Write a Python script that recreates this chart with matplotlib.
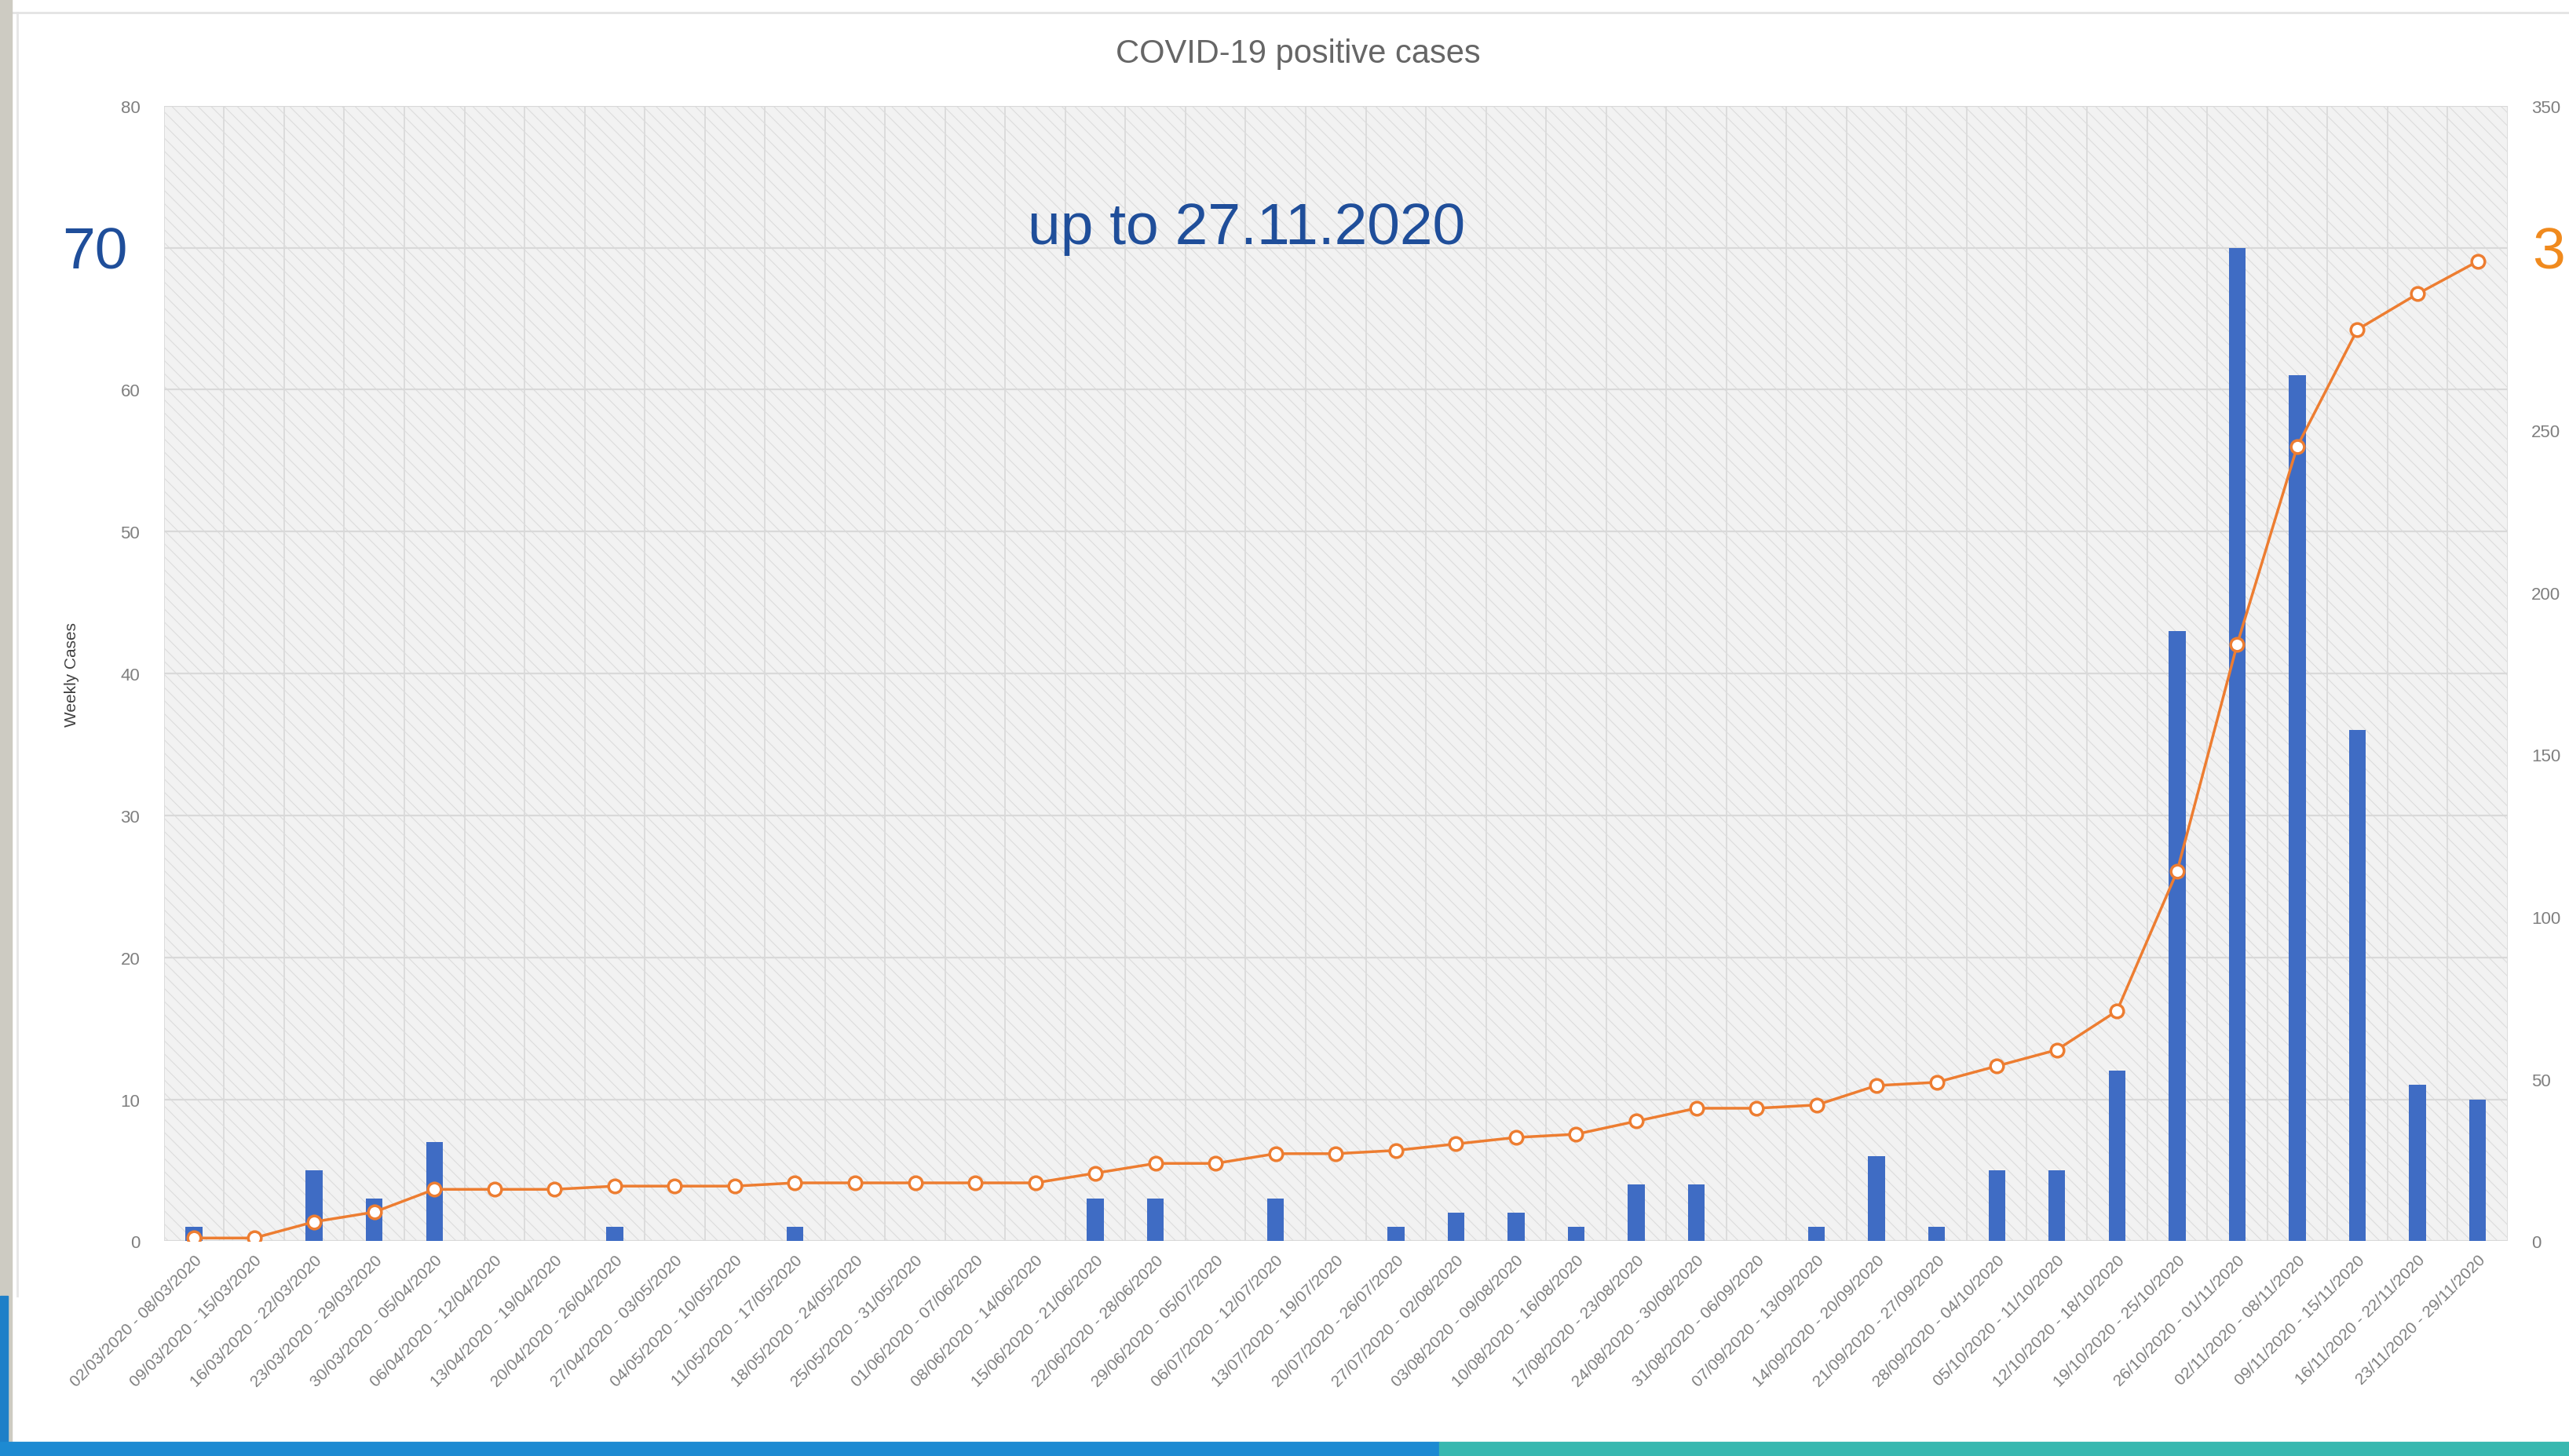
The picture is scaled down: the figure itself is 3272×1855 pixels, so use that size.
import matplotlib
matplotlib.use('Agg')
import matplotlib.pyplot as plt
from matplotlib.patches import Rectangle

plt.rcParams['font.family'] = ['Liberation Sans', 'DejaVu Sans']
plt.rcParams['hatch.linewidth'] = 0.8

# weekly periods (Mon - Sun)
week_starts = ['02/03', '09/03', '16/03', '23/03', '30/03', '06/04', '13/04', '20/04', '27/04',
               '04/05', '11/05', '18/05', '25/05', '01/06', '08/06', '15/06', '22/06', '29/06',
               '06/07', '13/07', '20/07', '27/07', '03/08', '10/08', '17/08', '24/08', '31/08',
               '07/09', '14/09', '21/09', '28/09', '05/10', '12/10', '19/10', '26/10', '02/11',
               '09/11', '16/11', '23/11']
week_ends = ['08/03', '15/03', '22/03', '29/03', '05/04', '12/04', '19/04', '26/04', '03/05',
             '10/05', '17/05', '24/05', '31/05', '07/06', '14/06', '21/06', '28/06', '05/07',
             '12/07', '19/07', '26/07', '02/08', '09/08', '16/08', '23/08', '30/08', '06/09',
             '13/09', '20/09', '27/09', '04/10', '11/10', '18/10', '25/10', '01/11', '08/11',
             '15/11', '22/11', '29/11']

weekly_cases = [1, 0, 5, 3, 7, 0, 0, 1, 0, 0, 1, 0, 0, 0, 0, 3, 3, 0, 3, 0,
                1, 2, 2, 1, 4, 4, 0, 1, 6, 1, 5, 5, 12, 43, 70, 61, 36, 11, 10]

total_cases = [1, 1, 6, 9, 16, 16, 16, 17, 17, 17, 18, 18, 18, 18, 18, 21, 24, 24, 27, 27,
               28, 30, 32, 33, 37, 41, 41, 42, 48, 49, 54, 59, 71, 114, 184, 245, 281, 292, 302]

left_ticks = [0, 10, 20, 30, 40, 50, 60, 70, 80]
right_ticks = [0, 50, 100, 150, 200, 250, 300, 350]

labels = [f'{s}/2020 - {e}/2020' for s, e in zip(week_starts, week_ends)]
x = list(range(len(labels)))

fig = plt.figure(figsize=(32.73, 18.56), dpi=100)
fig.patch.set_facecolor('white')

ax = fig.add_axes([0.0638, 0.1474, 0.912, 0.7795])
ax.set_facecolor('#f2f2f2')
# diagonal hatched background like the Excel chart
ax.add_patch(Rectangle((0, 0), 1, 1, transform=ax.transAxes, facecolor='none',
                       edgecolor='#dcdcdc', hatch='\\\\', linewidth=0, zorder=0))

ax.bar(x, weekly_cases, width=0.28, color='#3f6cc4', zorder=3)
ax.set_xlim(-0.5, len(labels) - 0.5)
ax.set_ylim(0, 80)
ax.set_yticks(left_ticks)
# the big overlay numbers hide the 70 / 300 tick labels in the original
ax.set_yticklabels(['' if t == 70 else str(t) for t in left_ticks])

# gridlines: horizontal at ticks, vertical between categories
ax.grid(axis='y', color='#d9d9d9', linewidth=1.6, zorder=1)
for b in range(len(labels) + 1):
    ax.axvline(b - 0.5, color='#dcdcdc', linewidth=1.4, zorder=1)

ax.set_xticks(x)
ax.set_xticklabels(labels, rotation=45, ha='right', rotation_mode='anchor',
                   fontsize=15, color='#7f7f7f')
ax.tick_params(axis='x', length=0, pad=10)
ax.tick_params(axis='y', length=0, pad=22, labelsize=16, labelcolor='#7f7f7f')
for s in ax.spines.values():
    s.set_visible(False)

ax.set_ylabel('Weekly Cases', fontsize=15, color='#404040')
ax.yaxis.set_label_coords(-0.036, 0.5)

ax2 = ax.twinx()
ax2.plot(x, total_cases, color='#ed7d31', linewidth=2.5, marker='o', markersize=12,
         markerfacecolor='white', markeredgecolor='#ed7d31', markeredgewidth=2.5, zorder=4)
ax2.set_ylim(0, 350)
ax2.set_yticks(right_ticks)
ax2.set_yticklabels(['' if t == 300 else str(t) for t in right_ticks])
ax2.tick_params(axis='y', length=0, pad=22, labelsize=16, labelcolor='#7f7f7f')
for s in ax2.spines.values():
    s.set_visible(False)

fig.text(0.505, 0.963, 'COVID-19 positive cases', ha='center', va='center',
         fontsize=30, color='#666666')
fig.text(0.485, 0.843, 'up to 27.11.2020', ha='center', va='center',
         fontsize=54, color='#1f4e9a')
fig.text(0.037, 0.826, '70', ha='center', va='center', fontsize=54, color='#1f4e9a')
fig.text(0.9855, 0.826, '3', ha='left', va='center', fontsize=54, color='#f08a1e')

# screenshot frame
fig.patches.append(Rectangle((0, 0), 0.0045, 1, transform=fig.transFigure,
                             color='#cdcbc2', zorder=5))
fig.lines.append(plt.Line2D([0.0068, 0.0068], [0.11, 0.991], transform=fig.transFigure,
                            color='#e6e6e6', linewidth=2))
fig.patches.append(Rectangle((0, 0), 0.003, 0.11, transform=fig.transFigure,
                             color='#1e7fc8', zorder=6))
fig.patches.append(Rectangle((0, 0), 0.56, 0.0095, transform=fig.transFigure,
                             color='#1d8ad2', zorder=6))
fig.patches.append(Rectangle((0.56, 0), 0.44, 0.0095, transform=fig.transFigure,
                             color='#38b8b0', zorder=6))
fig.lines.append(plt.Line2D([0.0045, 1], [0.991, 0.991], transform=fig.transFigure,
                            color='#e3e3e3', linewidth=2))

fig.savefig('out.png', dpi=100)
